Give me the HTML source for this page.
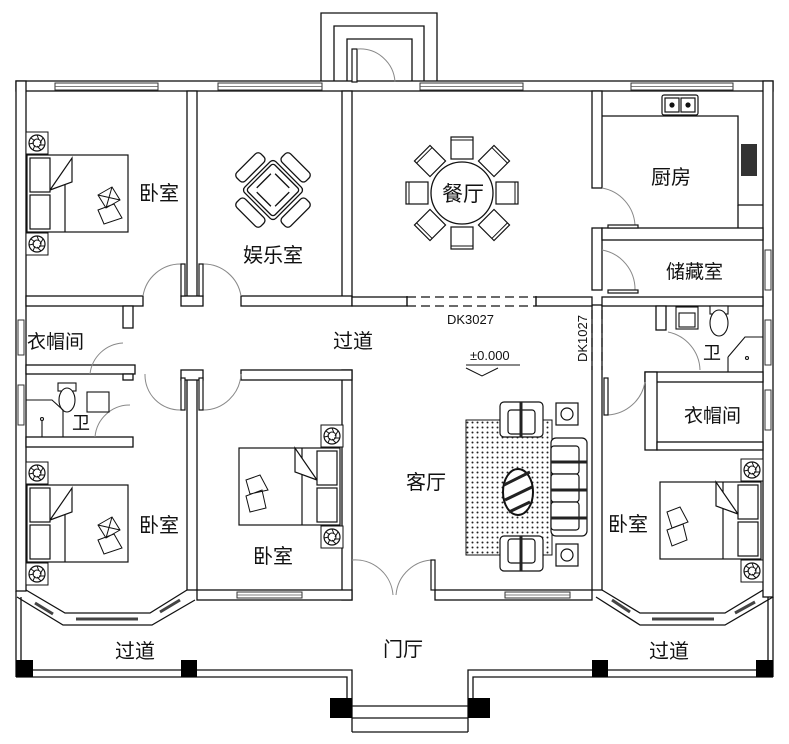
<!DOCTYPE html>
<html><head><meta charset="utf-8"><style>
html,body{margin:0;padding:0;background:#fff;}
svg{display:block;}
text{font-family:"Liberation Sans","Noto Sans CJK SC",sans-serif;fill:#111;}
</style></head><body>
<svg width="789" height="744" viewBox="0 0 789 744" xmlns="http://www.w3.org/2000/svg">
<defs>
<pattern id="dots" width="5" height="5" patternUnits="userSpaceOnUse"><circle cx="2.5" cy="2.5" r="1" fill="#222"/></pattern>
<g id="fan"><rect x="-11" y="-11" width="22" height="22" fill="#fff" stroke="#111" stroke-width="1"/><circle r="8" fill="#fff" stroke="#111" stroke-width="1.2"/><circle r="4" fill="none" stroke="#111"/><path d="M0,-8 L2,-3 M6,-5 L3,0 M8,2 L2,2 M4,7 L0,3 M-4,7 L-2,2 M-8,1 L-3,0 M-6,-5 L-2,-2" stroke="#111" stroke-width="1"/></g>
<g id="chair"><rect x="-11" y="-11" width="22" height="22" fill="#fff" stroke="#111" stroke-width="1.2"/><line x1="-11" y1="-8" x2="11" y2="-8" stroke="#111"/></g>
</defs>
<g fill="#fff" stroke="#111" stroke-width="1.3">
<path d="M321,82 V13 H437 V82" fill="none"/>
<path d="M334,82 V26 H424 V82" fill="none"/>
<path d="M347,82 V39 H412 V82" fill="none"/>
<rect x="16" y="81" width="757" height="10"/>
<rect x="16" y="81" width="10" height="510"/>
<rect x="763" y="81" width="10" height="516"/>
<line x1="16" y1="591" x2="16" y2="677"/><line x1="21" y1="597" x2="21" y2="670"/>
<line x1="773" y1="597" x2="773" y2="677"/><line x1="768" y1="597" x2="768" y2="670"/>
<rect x="187" y="91" width="10" height="214"/>
<rect x="342" y="91" width="10" height="206"/>
<rect x="592" y="91" width="10" height="97"/>
<rect x="592" y="228" width="10" height="62"/>
<rect x="592" y="305" width="10" height="285"/>
<rect x="187" y="374" width="10" height="216"/>
<rect x="342" y="370" width="10" height="230"/>
<rect x="26" y="296" width="117" height="10"/>
<rect x="123" y="306" width="10" height="22"/>
<rect x="181" y="296" width="22" height="10"/>
<rect x="241" y="296" width="111" height="10"/>
<rect x="352" y="297" width="55" height="9"/>
<rect x="536" y="297" width="56" height="9"/>
<rect x="602" y="297" width="161" height="9"/>
<rect x="602" y="228" width="161" height="12"/>
<rect x="26" y="365" width="109" height="9"/>
<rect x="123" y="374" width="10" height="6"/>
<rect x="26" y="437" width="107" height="10"/>
<rect x="181" y="370" width="22" height="10"/>
<rect x="241" y="370" width="111" height="10"/>
<rect x="197" y="590" width="155" height="10"/>
<rect x="435" y="590" width="157" height="10"/>
<rect x="645" y="372" width="118" height="10"/>
<rect x="645" y="372" width="12" height="78"/>
<rect x="657" y="442" width="106" height="8"/>
<rect x="656" y="306" width="10" height="24"/>
<path d="M602,116 H738 V205 H763" fill="none"/>
<path d="M738,205 V228" fill="none"/>
</g>
<g stroke="#111" stroke-width="1.2" fill="none" stroke-dasharray="9,5">
<line x1="407" y1="297" x2="536" y2="297"/><line x1="407" y1="306" x2="536" y2="306"/>
<line x1="592" y1="310" x2="592" y2="370"/><line x1="602" y1="310" x2="602" y2="370"/>
</g>
<g stroke="#111" stroke-width="1.2"><line x1="407" y1="296" x2="407" y2="306"/><line x1="536" y1="296" x2="536" y2="306"/></g>
<g fill="#fff" stroke="#333" stroke-width="1">
<rect x="55" y="83" width="103" height="7"/><rect x="218" y="83" width="104" height="7"/>
<rect x="420" y="83" width="103" height="7"/><rect x="631" y="83" width="102" height="7"/>
<rect x="18" y="320" width="6" height="35"/><rect x="18" y="385" width="6" height="40"/>
<rect x="765" y="250" width="6" height="40"/><rect x="765" y="320" width="6" height="45"/><rect x="765" y="390" width="6" height="40"/>
<rect x="237" y="592" width="65" height="6"/><rect x="505" y="592" width="65" height="6"/>
</g>
<g stroke="#555" stroke-width="0.8">
<line x1="55" y1="86.5" x2="158" y2="86.5"/><line x1="218" y1="86.5" x2="322" y2="86.5"/><line x1="420" y1="86.5" x2="523" y2="86.5"/><line x1="631" y1="86.5" x2="733" y2="86.5"/>
<line x1="237" y1="595" x2="302" y2="595"/><line x1="505" y1="595" x2="570" y2="595"/>
</g>
<g fill="none" stroke="#111" stroke-width="1.3">
<path d="M17,597 L63,625 L152,625 L195,600"/>
<path d="M26,590 L65,613 L150,613 L187,590"/>
<path d="M602,590 L640,613 L725,613 L763,590"/>
<path d="M596,597 L640,625 L725,625 L773,597"/>
</g>
<g stroke="#444" stroke-width="3">
<line x1="35" y1="603" x2="53" y2="614"/><line x1="76" y1="619" x2="138" y2="619"/><line x1="160" y1="612" x2="180" y2="600"/>
<line x1="612" y1="600" x2="630" y2="612"/><line x1="652" y1="619" x2="714" y2="619"/><line x1="735" y1="613" x2="755" y2="602"/>
</g>
<g fill="none" stroke="#111" stroke-width="1.3">
<path d="M21,670 H352 V732 M16,677 H347 V698"/>
<path d="M773,670 H468 V732 M773,677 H473 V698"/>
<path d="M352,706 H468 M352,718 H468 M352,732 H468"/>
</g>
<g fill="#000">
<rect x="16" y="660" width="17" height="17"/><rect x="181" y="660" width="16" height="17"/>
<rect x="592" y="660" width="16" height="17"/><rect x="756" y="660" width="17" height="17"/>
<rect x="330" y="698" width="22" height="20"/><rect x="468" y="698" width="22" height="20"/>
</g>
<g fill="none" stroke="#888" stroke-width="1">
<path d="M143,296 A38,38 0 0 1 181,264"/><path d="M203,264 A38,38 0 0 1 241,296"/>
<path d="M602,188 A40,40 0 0 1 635,225"/><path d="M602,250 A40,40 0 0 1 635,290"/>
<path d="M358,49 A35,35 0 0 1 395,82"/>
<path d="M90,374 A35,35 0 0 1 123,343"/><path d="M95,437 A35,35 0 0 1 130,405"/>
<path d="M145,374 A35,35 0 0 0 181,410"/><path d="M203,410 A38,38 0 0 0 241,374"/>
<path d="M352,560 A38,38 0 0 1 393,595"/><path d="M435,560 A38,38 0 0 0 396,595"/>
<path d="M668,332 A40,40 0 0 1 700,370"/><path d="M608,415 A40,40 0 0 0 645,382"/>
</g>
<g stroke="#111" stroke-width="1.2" fill="#fff">
<rect x="181" y="264" width="4" height="32"/><rect x="199" y="264" width="4" height="32"/>
<rect x="181" y="378" width="4" height="32"/><rect x="199" y="378" width="4" height="32"/>
<rect x="352" y="49" width="5" height="33"/>
<rect x="608" y="225" width="30" height="3"/><rect x="608" y="290" width="30" height="3"/>
<rect x="604" y="378" width="4" height="37"/>
<rect x="431" y="560" width="4" height="30"/>
</g>
<g stroke="#111" stroke-width="1.2" fill="#fff">
<rect x="27" y="155" width="101" height="77"/><rect x="30" y="158" width="20" height="34"/><rect x="30" y="195" width="20" height="34"/><line x1="65" y1="170" x2="65" y2="232"/><path d="M50,190 L72,158 L72,182 L50,190"/>
<rect x="27" y="485" width="101" height="77"/><rect x="30" y="488" width="20" height="34"/><rect x="30" y="525" width="20" height="34"/><line x1="65" y1="500" x2="65" y2="562"/><path d="M50,520 L72,488 L72,512 L50,520"/>
<rect x="239" y="448" width="101" height="77"/><rect x="317" y="451" width="20" height="34"/><rect x="317" y="488" width="20" height="34"/><line x1="302" y1="448" x2="302" y2="525"/><path d="M317,480 L295,448 L295,472 L317,480"/>
<rect x="660" y="482" width="101" height="77"/><rect x="738" y="485" width="20" height="34"/><rect x="738" y="522" width="20" height="34"/><line x1="723" y1="482" x2="723" y2="559"/><path d="M738,514 L716,482 L716,506 L738,514"/>
</g>
<g fill="none" stroke="#111" stroke-width="1">
<path d="M98,195 L112,187 L120,200 L106,208 Z M98,210 L114,204 L122,218 L104,224 Z M98,195 L120,200 M112,187 L106,208"/>
<path d="M98,525 L112,517 L120,530 L106,538 Z M98,540 L114,534 L122,548 L104,554 Z M98,525 L120,530 M112,517 L106,538"/>
<path d="M246,480 L260,475 L268,490 L250,494 Z M246,496 L262,490 L266,508 L250,512 Z"/>
<path d="M667,512 L680,507 L688,522 L672,528 Z M667,530 L683,524 L687,540 L672,546 Z"/>
</g>
<use href="#fan" x="37" y="143"/><use href="#fan" x="37" y="244"/>
<use href="#fan" x="37" y="473"/><use href="#fan" x="37" y="574"/>
<use href="#fan" x="332" y="436"/><use href="#fan" x="332" y="537"/>
<use href="#fan" x="752" y="470"/><use href="#fan" x="752" y="571"/>
<g stroke="#111" stroke-width="1.3" fill="#fff">
<g transform="translate(273,190) rotate(45)">
<rect x="-17" y="-38" width="34" height="12" rx="4"/><rect x="-17" y="26" width="34" height="12" rx="4"/>
<rect x="-38" y="-17" width="12" height="34" rx="4"/><rect x="26" y="-17" width="12" height="34" rx="4"/>
<rect x="-22" y="-22" width="44" height="44" rx="4"/><rect x="-19" y="-19" width="38" height="38" rx="3"/>
<line x1="-10" y1="-13" x2="10" y2="-13"/><line x1="-10" y1="13" x2="10" y2="13"/><line x1="-13" y1="-10" x2="-13" y2="10"/><line x1="13" y1="-10" x2="13" y2="10"/>
</g>
</g>
<g transform="translate(462,193)">
<use href="#chair" x="0" y="-45"/><use href="#chair" x="0" y="45" transform="rotate(180 0 45)"/>
<use href="#chair" x="-45" y="0" transform="rotate(-90 -45 0)"/><use href="#chair" x="45" y="0" transform="rotate(90 45 0)"/>
<use href="#chair" x="-32" y="-32" transform="rotate(-45 -32 -32)"/><use href="#chair" x="32" y="-32" transform="rotate(45 32 -32)"/>
<use href="#chair" x="-32" y="32" transform="rotate(-135 -32 32)"/><use href="#chair" x="32" y="32" transform="rotate(135 32 32)"/>
<circle r="31" fill="#fff" stroke="#111" stroke-width="1.3"/>
</g>
<g stroke="#111" stroke-width="1.2" fill="#fff"><rect x="662" y="95" width="36" height="20" rx="2"/><rect x="665" y="98" width="14" height="14"/><rect x="681" y="98" width="14" height="14"/><circle cx="672" cy="105" r="2" fill="#111"/><circle cx="688" cy="105" r="2" fill="#111"/></g>
<rect x="741" y="144" width="16" height="32" fill="#333"/>
<g stroke="#111" stroke-width="1.1" fill="#fff">
<rect x="676" y="307" width="22" height="22"/><rect x="679" y="313" width="16" height="14"/>
<rect x="710" y="306" width="18" height="8"/><ellipse cx="719" cy="323" rx="9" ry="13"/>
<path d="M728,357 L745,337 H763 M728,357 V372" fill="none"/><circle cx="747" cy="358" r="1.5"/>
<rect x="87" y="392" width="22" height="20"/><rect x="58" y="383" width="18" height="8"/><ellipse cx="67" cy="400" rx="8" ry="12"/>
<path d="M26,400 L52,400 L63,410 V437 M42,420 V437" fill="none"/><circle cx="42" cy="419" r="1.5"/>
</g>
<rect x="466" y="420" width="86" height="135" fill="url(#dots)" stroke="#111"/>
<g stroke="#111" stroke-width="1.2" fill="#fff">
<rect x="500" y="402" width="43" height="35" rx="4"/><rect x="508" y="410" width="27" height="24" rx="3"/>
<rect x="500" y="536" width="43" height="35" rx="4"/><rect x="508" y="539" width="27" height="24" rx="3"/>
<rect x="551" y="438" width="36" height="98" rx="5"/><rect x="551" y="446" width="28" height="28" rx="3"/><rect x="551" y="474" width="28" height="28" rx="3"/><rect x="551" y="502" width="28" height="28" rx="3"/>
<rect x="556" y="403" width="22" height="22"/><circle cx="567" cy="414" r="6"/>
<rect x="556" y="544" width="22" height="22"/><circle cx="567" cy="555" r="6"/>
<ellipse cx="518" cy="492" rx="15" ry="23" stroke-width="2"/>
</g>
<g stroke="#222" stroke-width="3"><line x1="521" y1="402" x2="521" y2="437"/><line x1="521" y1="536" x2="521" y2="571"/><line x1="551" y1="462" x2="587" y2="462"/><line x1="551" y1="490" x2="587" y2="490"/><line x1="551" y1="518" x2="587" y2="518"/><line x1="504" y1="485" x2="530" y2="472"/><line x1="505" y1="500" x2="532" y2="487"/><line x1="509" y1="512" x2="530" y2="502"/></g>
<path d="M466,368 L482,376 L498,368" fill="none" stroke="#111"/><line x1="466" y1="365" x2="520" y2="365" stroke="#111"/>
<g font-size="20">
<text x="139" y="200">卧室</text>
<text x="243" y="262">娱乐室</text>
<text x="442" y="201" font-size="21">餐厅</text>
<text x="651" y="184">厨房</text>
<text x="666" y="278" font-size="19">储藏室</text>
<text x="27" y="348" font-size="19">衣帽间</text>
<text x="333" y="348">过道</text>
<text x="703" y="359" font-size="18">卫</text>
<text x="72" y="429" font-size="18">卫</text>
<text x="684" y="422" font-size="19">衣帽间</text>
<text x="406" y="489">客厅</text>
<text x="139" y="532">卧室</text>
<text x="253" y="563">卧室</text>
<text x="608" y="531">卧室</text>
<text x="115" y="658">过道</text>
<text x="383" y="656">门厅</text>
<text x="649" y="658">过道</text>
</g>
<text x="447" y="324" font-size="13">DK3027</text>
<text x="470" y="360" font-size="13">±0.000</text>
<text transform="translate(587,362) rotate(-90)" font-size="13">DK1027</text>
</svg>
</body></html>
